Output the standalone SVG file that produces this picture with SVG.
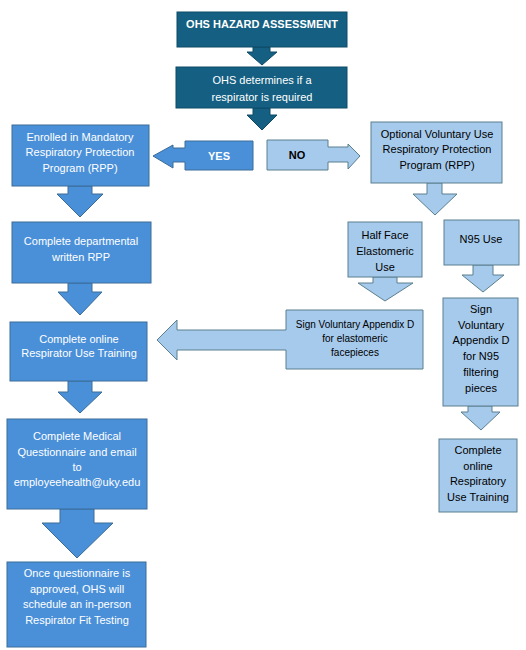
<svg xmlns="http://www.w3.org/2000/svg" width="526" height="650" viewBox="0 0 526 650">
<style>
.dark{fill:#156082;stroke:#0e4a66;stroke-width:1}
.mid{fill:#4a90d9;stroke:#3a6c98;stroke-width:1}
.light{fill:#a6caec;stroke:#5b7f8e;stroke-width:1}
text{font-family:"Liberation Sans",Arial,sans-serif;font-size:11px;text-anchor:middle;dominant-baseline:central}
.w{fill:#ffffff}
.k{fill:#000000}
.b{font-weight:bold}
</style>
<rect width="526" height="650" fill="#ffffff"/>
<g id="connectors">
<polygon class="dark" points="253,47 270,47 270,52 277,52 262,65 247,52 253,52"/>
<polygon class="dark" points="253,108 270,108 270,115 277,115 262,130 247,115 253,115"/>
<polygon class="mid" points="68,186 92,186 92,194 103,194 80,217 57,194 68,194"/>
<polygon class="mid" points="68,283 92,283 92,292 102,292 80,315 58,292 68,292"/>
<polygon class="mid" points="68,381 92,381 92,392 102,392 80,413 58,392 68,392"/>
<polygon class="mid" points="60,509 94,509 94,523 113,523 77,558 42,523 60,523"/>
<polygon class="light" points="427,183 442,183 442,194 457,194 435,215 413,194 427,194"/>
<polygon class="light" points="373,277 397,277 397,283 413,283 385,301 358,283 373,283"/>
<polygon class="light" points="473,265 493,265 493,275 504,275 483,292 462,275 473,275"/>
<polygon class="light" points="468,406 492,406 492,412 500,412 481,430 461,412 468,412"/>
</g>
<g id="n-hazard">
<rect class="dark" x="177" y="12" width="170" height="35"/>
<text class="w b" x="262" y="24">OHS HAZARD ASSESSMENT</text>
</g>
<g id="n-determines">
<rect class="dark" x="176" y="67" width="171" height="41"/>
<text class="w" x="262" y="80">OHS determines if a</text>
<text class="w" x="262" y="97">respirator is required</text>
</g>
<g id="n-yes">
<path class="mid" d="M253,141 L253,170 L185,170 L185,162 L173,162 L173,168 L153,156 L173,145 L173,148 L185,148 L185,141 Z"/>
<text class="w b" x="219" y="156">YES</text>
</g>
<g id="n-no">
<path class="light" d="M267,140 L328,140 L328,147 L348,147 L348,144 L360,156 L348,169 L348,162 L328,162 L328,170 L267,170 Z"/>
<text class="k b" x="297" y="155">NO</text>
</g>
<g id="n-mandatory">
<rect class="mid" x="12" y="125" width="137" height="61"/>
<text class="w" x="80" y="137">Enrolled in Mandatory</text>
<text class="w" x="80" y="152">Respiratory Protection</text>
<text class="w" x="80" y="168">Program (RPP)</text>
</g>
<g id="n-optional">
<rect class="light" x="371" y="122" width="131" height="61"/>
<text class="k" x="437" y="134">Optional Voluntary Use</text>
<text class="k" x="437" y="149">Respiratory Protection</text>
<text class="k" x="437" y="165">Program (RPP)</text>
</g>
<g id="n-departmental">
<rect class="mid" x="12" y="222" width="139" height="61"/>
<text class="w" x="81" y="241">Complete departmental</text>
<text class="w" x="81" y="257">written RPP</text>
</g>
<g id="n-halfface">
<rect class="light" x="348" y="222" width="74" height="55"/>
<text class="k" x="385" y="235">Half Face</text>
<text class="k" x="385" y="251">Elastomeric</text>
<text class="k" x="385" y="267">Use</text>
</g>
<g id="n-n95">
<rect class="light" x="444" y="220" width="75" height="45"/>
<text class="k" x="481" y="239">N95 Use</text>
</g>
<g id="n-sign-elasto">
<path class="light" d="M423,310 L423,369 L286,369 L286,350 L177,350 L177,360 L157,340 L177,320 L177,330 L286,330 L286,310 Z"/>
<text class="k" x="355" y="324" style="font-size:10px">Sign Voluntary Appendix D</text>
<text class="k" x="355" y="338" style="font-size:10px">for elastomeric</text>
<text class="k" x="355" y="352" style="font-size:10px">facepieces</text>
</g>
<g id="n-sign-n95">
<rect class="light" x="443" y="298" width="75" height="108"/>
<text class="k" x="481" y="309">Sign</text>
<text class="k" x="481" y="325">Voluntary</text>
<text class="k" x="481" y="340">Appendix D</text>
<text class="k" x="481" y="356">for N95</text>
<text class="k" x="481" y="372">filtering</text>
<text class="k" x="481" y="388">pieces</text>
</g>
<g id="n-training">
<rect class="mid" x="10" y="322" width="137" height="59"/>
<text class="w" x="79" y="339">Complete online</text>
<text class="w" x="79" y="353">Respirator Use Training</text>
</g>
<g id="n-training-right">
<rect class="light" x="439" y="439" width="78" height="73"/>
<text class="k" x="478" y="450">Complete</text>
<text class="k" x="478" y="466">online</text>
<text class="k" x="478" y="481">Respiratory</text>
<text class="k" x="478" y="497">Use Training</text>
</g>
<g id="n-medical">
<rect class="mid" x="7" y="419" width="140" height="90"/>
<text class="w" x="77" y="436">Complete Medical</text>
<text class="w" x="77" y="452">Questionnaire and email</text>
<text class="w" x="77" y="467">to</text>
<text class="w" x="77" y="482">employeehealth@uky.edu</text>
</g>
<g id="n-fit">
<rect class="mid" x="7" y="562" width="139" height="85"/>
<text class="w" x="77" y="573">Once questionnaire is</text>
<text class="w" x="77" y="589">approved, OHS will</text>
<text class="w" x="77" y="604">schedule an in-person</text>
<text class="w" x="77" y="620">Respirator Fit Testing</text>
</g>
</svg>
